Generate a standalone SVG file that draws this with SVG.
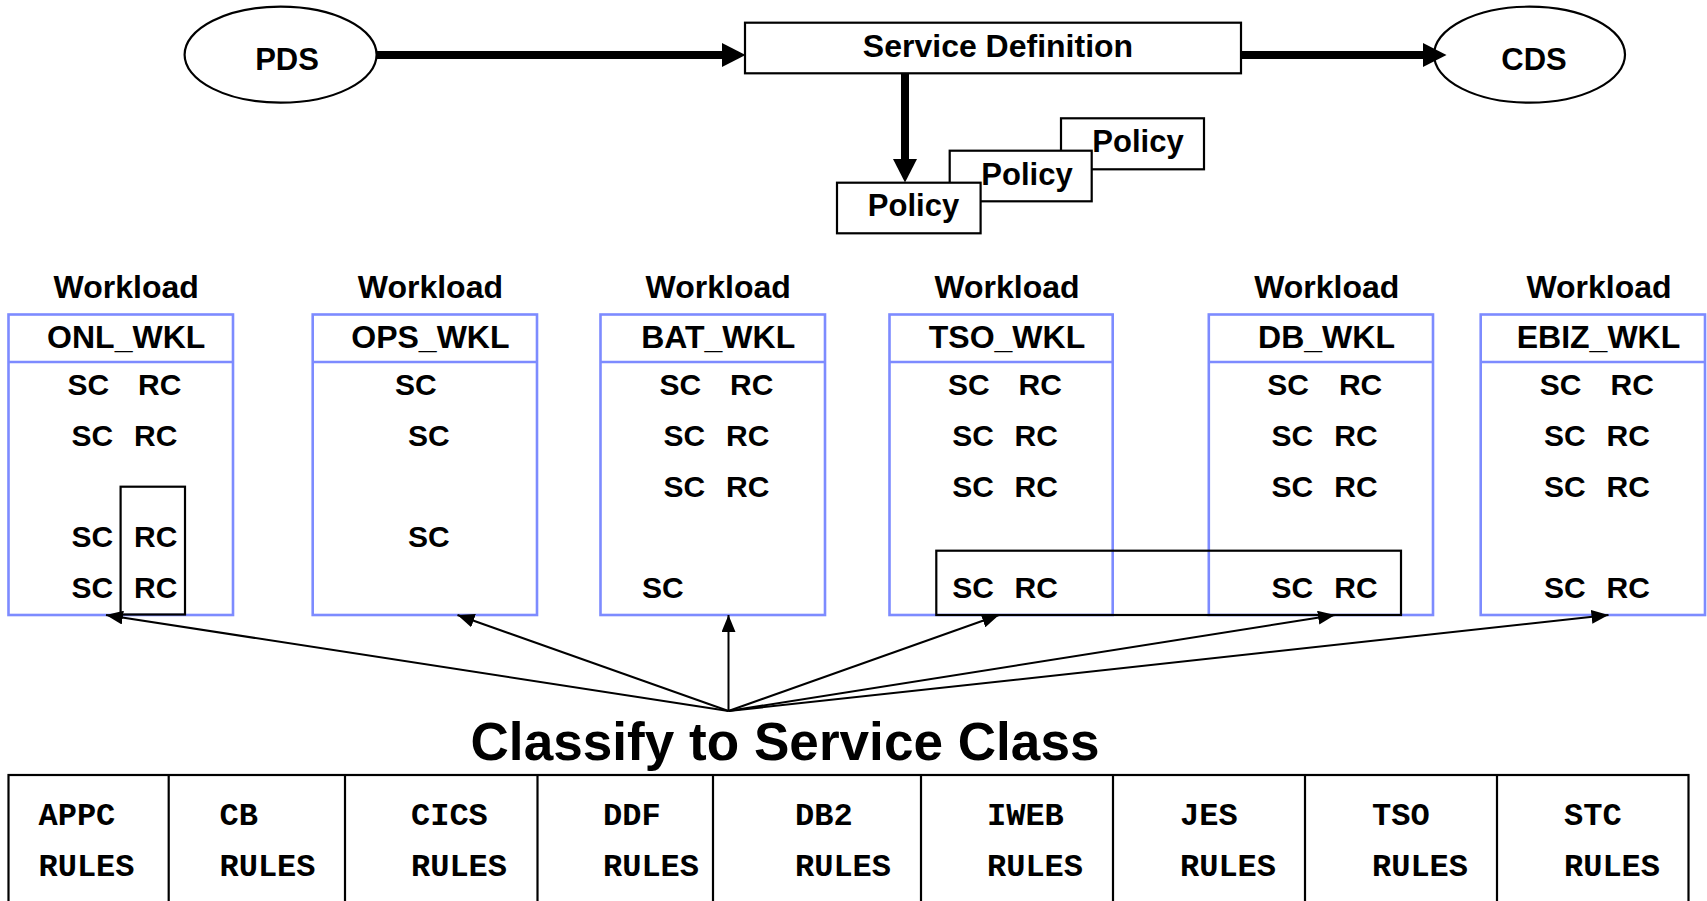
<svg xmlns="http://www.w3.org/2000/svg" width="1707" height="901" viewBox="0 0 1707 901">
<style>
.t{font-family:"Liberation Sans",Arial,sans-serif;font-weight:bold;fill:#000}
.c{text-anchor:middle}
.m{font-family:"Liberation Mono","Courier New",monospace;font-weight:bold;font-size:32px;fill:#000}
.blk{fill:#fff;stroke:#000;stroke-width:2.2}
.nf{fill:none;stroke:#000;stroke-width:2.2}
.wk{fill:#fff;stroke:#7D8BFF;stroke-width:2.6}
.wl{stroke:#7D8BFF;stroke-width:2.6}
.sr{font-size:30px}
.thick{stroke:#000;stroke-width:8;fill:none}
.thin{stroke:#000;stroke-width:2;fill:none}
</style>
<defs>
<marker id="bigHead" markerUnits="userSpaceOnUse" markerWidth="24" markerHeight="24" refX="0" refY="12" orient="auto">
<path d="M0,0 L23.5,12 L0,24 z" fill="#000"/>
</marker>
<marker id="smallHead" markerUnits="userSpaceOnUse" markerWidth="18" markerHeight="14" refX="17" refY="7" orient="auto">
<path d="M0,0 L17,7 L0,14 z" fill="#000"/>
</marker>
</defs>

<g id="pds">
<ellipse cx="280.6" cy="54.7" rx="96" ry="48" class="blk"/>
<text x="287" y="70" class="t c" font-size="31">PDS</text>
</g>
<g id="service-definition">
<rect x="745" y="22.7" width="496" height="50.6" class="blk"/>
<text x="998" y="57.3" class="t c" font-size="32">Service Definition</text>
</g>
<g id="cds">
<ellipse cx="1529.5" cy="54.7" rx="95.5" ry="48" class="blk"/>
<text x="1534" y="70" class="t c" font-size="31">CDS</text>
</g>
<g id="policy-3">
<rect x="1061" y="118.3" width="143" height="51" class="blk"/>
<text x="1138" y="152" class="t c" font-size="31">Policy</text>
</g>
<g id="policy-2">
<rect x="949.7" y="150.7" width="142" height="50.6" class="blk"/>
<text x="1027" y="184.5" class="t c" font-size="31">Policy</text>
</g>
<g id="policy-1">
<rect x="837" y="182.7" width="143.6" height="50.6" class="blk"/>
<text x="913.5" y="216" class="t c" font-size="31">Policy</text>
</g>

<g id="onl-wkl">
<text x="126.2" y="298" class="t c" font-size="32">Workload</text>
<rect x="8.5" y="314.5" width="224.5" height="300.5" class="wk"/>
<line x1="8.5" y1="362" x2="233" y2="362" class="wl"/>
<text x="126.2" y="348" class="t c" font-size="32">ONL_WKL</text>
<text x="67.5" y="395" class="t sr">SC</text><text x="138" y="395" class="t sr">RC</text>
<text x="71.5" y="445.5" class="t sr">SC</text><text x="134" y="445.5" class="t sr">RC</text>
<text x="71.5" y="547" class="t sr">SC</text><text x="134" y="547" class="t sr">RC</text>
<text x="71.5" y="598" class="t sr">SC</text><text x="134" y="598" class="t sr">RC</text>
<rect x="120.6" y="486.7" width="64.4" height="127.8" class="nf"/>
</g>
<g id="ops-wkl">
<text x="430.4" y="298" class="t c" font-size="32">Workload</text>
<rect x="312.7" y="314.5" width="224.3" height="300.5" class="wk"/>
<line x1="312.7" y1="362" x2="537" y2="362" class="wl"/>
<text x="430.4" y="348" class="t c" font-size="32">OPS_WKL</text>
<text x="395" y="395" class="t sr">SC</text>
<text x="408" y="445.5" class="t sr">SC</text>
<text x="408" y="547" class="t sr">SC</text>
</g>
<g id="bat-wkl">
<text x="718.2" y="298" class="t c" font-size="32">Workload</text>
<rect x="600.5" y="314.5" width="224.5" height="300.5" class="wk"/>
<line x1="600.5" y1="362" x2="825" y2="362" class="wl"/>
<text x="718.2" y="348" class="t c" font-size="32">BAT_WKL</text>
<text x="659.5" y="395" class="t sr">SC</text><text x="730" y="395" class="t sr">RC</text>
<text x="663.5" y="445.5" class="t sr">SC</text><text x="726" y="445.5" class="t sr">RC</text>
<text x="663.5" y="496.5" class="t sr">SC</text><text x="726" y="496.5" class="t sr">RC</text>
<text x="642" y="598" class="t sr">SC</text>
</g>
<g id="tso-wkl">
<text x="1007" y="298" class="t c" font-size="32">Workload</text>
<rect x="889.5" y="314.5" width="223.2" height="300.5" class="wk"/>
<line x1="889.5" y1="362" x2="1112.7" y2="362" class="wl"/>
<text x="1007" y="348" class="t c" font-size="32">TSO_WKL</text>
<text x="948" y="395" class="t sr">SC</text><text x="1018.5" y="395" class="t sr">RC</text>
<text x="952.2" y="445.5" class="t sr">SC</text><text x="1014.5" y="445.5" class="t sr">RC</text>
<text x="952.2" y="496.5" class="t sr">SC</text><text x="1014.5" y="496.5" class="t sr">RC</text>
<text x="952.2" y="598" class="t sr">SC</text><text x="1014.5" y="598" class="t sr">RC</text>
</g>
<g id="db-wkl">
<text x="1326.8" y="298" class="t c" font-size="32">Workload</text>
<rect x="1208.8" y="314.5" width="224.2" height="300.5" class="wk"/>
<line x1="1208.8" y1="362" x2="1433" y2="362" class="wl"/>
<text x="1326.5" y="348" class="t c" font-size="32">DB_WKL</text>
<text x="1267.3" y="395" class="t sr">SC</text><text x="1338.9" y="395" class="t sr">RC</text>
<text x="1271.5" y="445.5" class="t sr">SC</text><text x="1334.3" y="445.5" class="t sr">RC</text>
<text x="1271.5" y="496.5" class="t sr">SC</text><text x="1334.3" y="496.5" class="t sr">RC</text>
<text x="1271.5" y="598" class="t sr">SC</text><text x="1334.3" y="598" class="t sr">RC</text>
</g>
<g id="ebiz-wkl">
<text x="1599" y="298" class="t c" font-size="32">Workload</text>
<rect x="1480.7" y="314.5" width="224.3" height="300.5" class="wk"/>
<line x1="1480.7" y1="362" x2="1705" y2="362" class="wl"/>
<text x="1598.5" y="348" class="t c" font-size="32">EBIZ_WKL</text>
<text x="1539.8" y="395" class="t sr">SC</text><text x="1610.5" y="395" class="t sr">RC</text>
<text x="1544" y="445.5" class="t sr">SC</text><text x="1606.5" y="445.5" class="t sr">RC</text>
<text x="1544" y="496.5" class="t sr">SC</text><text x="1606.5" y="496.5" class="t sr">RC</text>
<text x="1544" y="598" class="t sr">SC</text><text x="1606.5" y="598" class="t sr">RC</text>
</g>
<g id="tso-db-group">
<rect x="936.3" y="550.7" width="464.7" height="64.3" class="nf"/>
</g>

<g id="classify">
<text x="785" y="760" class="t c" font-size="53" textLength="629" lengthAdjust="spacingAndGlyphs">Classify to Service Class</text>
</g>

<g id="rules-table">
<rect x="8.5" y="775" width="1680" height="150" class="nf"/>
<line x1="168.7" y1="775" x2="168.7" y2="901" class="nf"/>
<line x1="345" y1="775" x2="345" y2="901" class="nf"/>
<line x1="537.5" y1="775" x2="537.5" y2="901" class="nf"/>
<line x1="713" y1="775" x2="713" y2="901" class="nf"/>
<line x1="921" y1="775" x2="921" y2="901" class="nf"/>
<line x1="1113" y1="775" x2="1113" y2="901" class="nf"/>
<line x1="1305" y1="775" x2="1305" y2="901" class="nf"/>
<line x1="1497" y1="775" x2="1497" y2="901" class="nf"/>
<text x="38.5" y="825" class="m">APPC</text><text x="38.5" y="876" class="m">RULES</text>
<text x="219.5" y="825" class="m">CB</text><text x="219.5" y="876" class="m">RULES</text>
<text x="411" y="825" class="m">CICS</text><text x="411" y="876" class="m">RULES</text>
<text x="603" y="825" class="m">DDF</text><text x="603" y="876" class="m">RULES</text>
<text x="795" y="825" class="m">DB2</text><text x="795" y="876" class="m">RULES</text>
<text x="987" y="825" class="m">IWEB</text><text x="987" y="876" class="m">RULES</text>
<text x="1180" y="825" class="m">JES</text><text x="1180" y="876" class="m">RULES</text>
<text x="1372" y="825" class="m">TSO</text><text x="1372" y="876" class="m">RULES</text>
<text x="1564" y="825" class="m">STC</text><text x="1564" y="876" class="m">RULES</text>
</g>

<g id="connectors">
<line x1="377" y1="55" x2="722" y2="55" class="thick" marker-end="url(#bigHead)"/>
<line x1="1241" y1="55" x2="1423" y2="55" class="thick" marker-end="url(#bigHead)"/>
<line x1="905" y1="73" x2="905" y2="159" class="thick" marker-end="url(#bigHead)"/>
<line x1="728.5" y1="711" x2="106" y2="615" class="thin" marker-end="url(#smallHead)"/>
<line x1="728.5" y1="711" x2="457.5" y2="615" class="thin" marker-end="url(#smallHead)"/>
<line x1="728.5" y1="711" x2="728.5" y2="615" class="thin" marker-end="url(#smallHead)"/>
<line x1="728.5" y1="711" x2="999" y2="615" class="thin" marker-end="url(#smallHead)"/>
<line x1="728.5" y1="711" x2="1335" y2="615" class="thin" marker-end="url(#smallHead)"/>
<line x1="728.5" y1="711" x2="1608.5" y2="615" class="thin" marker-end="url(#smallHead)"/>
</g>
</svg>
